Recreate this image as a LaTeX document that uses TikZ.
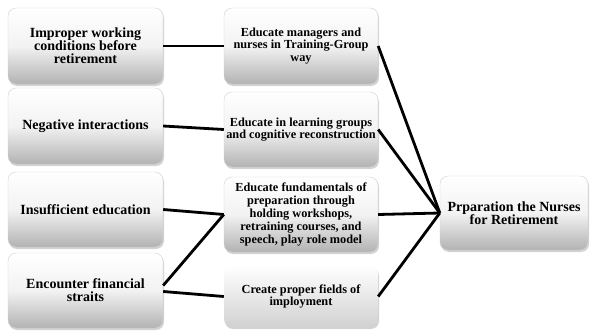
\documentclass[tikz,border=0pt]{standalone}
\usepackage{fontspec}
\setmainfont{Liberation Serif}
\usepackage{tikz}
\usetikzlibrary{shadows}

\begin{document}
\begin{tikzpicture}[x=1pt,y=-1pt,
    box/.style={rounded corners=8pt,top color=white,bottom color=black!30,middle color=black!5,draw=black!18,
      drop shadow={shadow xshift=1pt,shadow yshift=-2pt,opacity=0.35},
      align=center,font=\bfseries\fontsize{14}{13}\selectfont,inner sep=2pt},
    midbox/.style={box,font=\bfseries\fontsize{12.3}{12.8}\selectfont},
    link/.style={line width=2.8pt,black}]
        \useasboundingbox (0,0) rectangle (590,332);

        \node[box,minimum width=155pt,minimum height=76pt] (l1) at (85.5,46){Improper working\\conditions before\\retirement};
        \node[box,minimum width=155pt,minimum height=76pt] (l2) at (85.5,126){Negative interactions};
        \node[box,minimum width=155pt,minimum height=75pt] (l3) at (85.5,209.5){Insufficient education};
        \node[box,minimum width=155pt,minimum height=75pt] (l4) at (85.5,290.5){Encounter financial\\straits};

        \node[midbox,minimum width=154pt,minimum height=76pt] (m1) at (301,46){Educate managers and\\nurses in Training-Group\\way};
        \node[midbox,minimum width=154pt,minimum height=75pt] (m2) at (301,129.5){Educate in learning groups\\and cognitive reconstruction};
        \node[midbox,minimum width=154pt,minimum height=75pt] (m3) at (301,214.5){Educate fundamentals of\\preparation through\\holding workshops,\\retraining courses, and\\speech, play role model};
        \node[midbox,bottom color=black!18,draw=none,minimum width=154pt,minimum height=61pt] (m4) at (301,296.5){Create proper fields of\\imployment};

        \node[box,minimum width=148pt,minimum height=74pt] (r) at (514,213){Prparation the Nurses\\for Retirement};

        \draw[link] (l1.east)--(m1.west);
        \draw[link] (l2.east)--(m2.west);
        \draw[link] (l3.east)--(m3.west);
        \draw[link] ([yshift=5pt]l4.east)--(m3.west);
        \draw[link] ([yshift=-1pt]l4.east)--(m4.west);

        \draw[link] (m1.east)--(r.west);
        \draw[link] (m2.east)--(r.west);
        \draw[link] (m3.east)--(r.west);
        \draw[link] (m4.east)--(r.west);
    \end{tikzpicture}
\end{document}
